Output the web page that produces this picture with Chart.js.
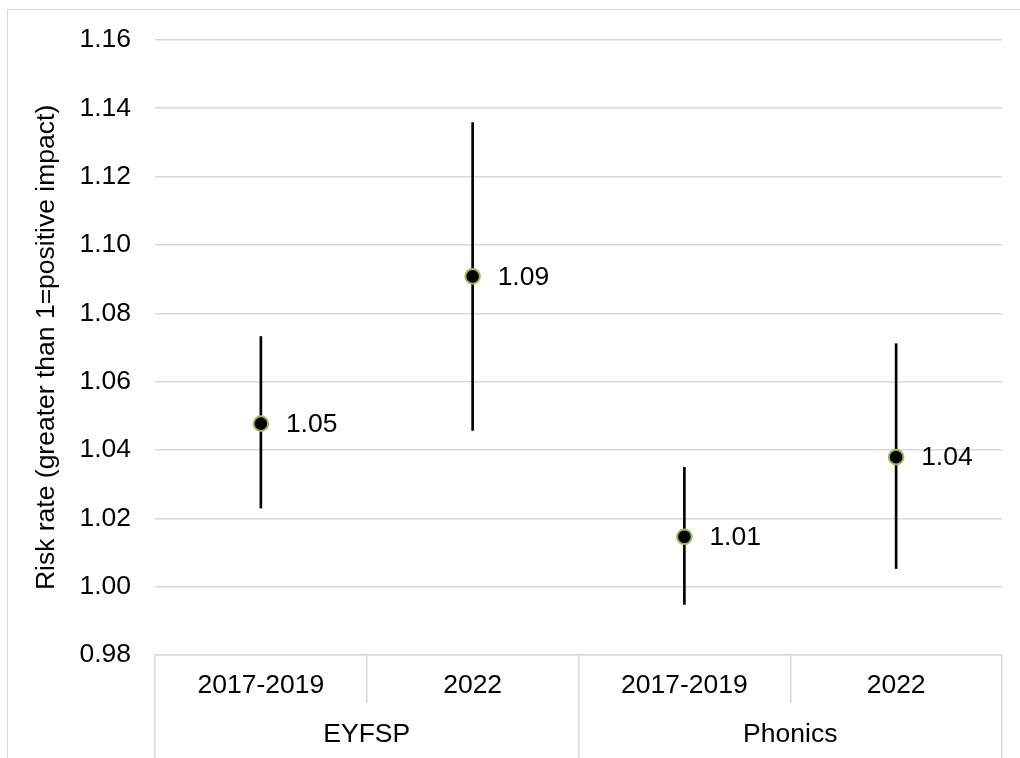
<!DOCTYPE html>
<html>
<head>
<meta charset="utf-8">
<script src="https://cdn.jsdelivr.net/npm/chart.js@4"></script>
<style>
  html, body { margin: 0; padding: 0; background: #fff; }
  #wrap { position: relative; width: 1020px; height: 758px; overflow: hidden; }
  #frame { position: absolute; left: 7px; top: 9px; width: 1100px; height: 900px;
           border-left: 1.5px solid #d9d9d9; border-top: 1.5px solid #d9d9d9; }
  canvas { position: absolute; left: 0; top: 0; }
</style>
</head>
<body>
<div id="wrap">
  <div id="frame"></div>
  <canvas id="c" width="1020" height="758"></canvas>
</div>
<script>
// Categories: period within each assessment
const periods = ['2017-2019', '2022', '2017-2019', '2022'];
const assessments = ['EYFSP', 'Phonics'];

// Estimated risk rates with their confidence intervals
const riskRate = [1.0477, 1.0908, 1.0146, 1.0379];
const ciLow    = [1.0230, 1.0457, 0.9948, 1.0053];
const ciHigh   = [1.0732, 1.1358, 1.0349, 1.0711];

// Y axis range and tick step
const yMin = 0.98, yMax = 1.16, yStep = 0.02;

const FONT = "'Liberation Sans', Arial, sans-serif";
const FS = 26.5;
const GRID = '#d9d9d9';

// Value labels drawn to the right of each point
const valueLabels = {
  id: 'valueLabels',
  afterDatasetsDraw(chart) {
    const meta = chart.getDatasetMeta(1);
    const ctx = chart.ctx;
    ctx.save();
    ctx.font = FS + 'px ' + FONT;
    ctx.fillStyle = '#000';
    ctx.textAlign = 'left';
    ctx.textBaseline = 'middle';
    meta.data.forEach((pt, i) => {
      ctx.fillText(riskRate[i].toFixed(2), pt.x + 25, pt.y + 1);
    });
    ctx.restore();
  }
};

new Chart(document.getElementById('c'), {
  type: 'bar',
  data: {
    labels: periods,
    datasets: [
      {
        type: 'bar',
        data: periods.map((_, i) => [ciLow[i], ciHigh[i]]),
        backgroundColor: '#000',
        borderWidth: 0,
        barThickness: 2,
        order: 2
      },
      {
        type: 'line',
        data: riskRate,
        showLine: false,
        pointRadius: 7.3,
        pointHoverRadius: 7.3,
        pointBorderWidth: 2,
        pointBackgroundColor: '#000',
        pointBorderColor: '#9bbb59',
        order: 1
      }
    ]
  },
  options: {
    responsive: false,
    animation: false,
    events: [],
    layout: { padding: { top: 38, right: 18, left: 0, bottom: 0 } },
    plugins: { legend: { display: false }, tooltip: { enabled: false } },
    scales: {
      x: {
        type: 'category',
        offset: true,
        position: 'bottom',
        border: { display: true, color: GRID, width: 1.5 },
        grid: { offset: true, drawOnChartArea: false, drawTicks: true, tickLength: 48, color: GRID, lineWidth: 1.5 },
        ticks: { autoSkip: false, maxRotation: 0, padding: -33, color: '#000', font: { family: FONT, size: FS } },
        afterFit(scale) { scale.height = 48; }
      },
      x2: {
        type: 'category',
        labels: assessments,
        offset: true,
        position: 'bottom',
        border: { display: false },
        grid: { offset: true, drawOnChartArea: false, drawTicks: true, tickLength: 60, color: GRID, lineWidth: 1.5 },
        ticks: { autoSkip: false, maxRotation: 0, padding: -44, color: '#000', font: { family: FONT, size: FS } },
        afterFit(scale) { scale.height = 55; }
      },
      y: {
        min: yMin,
        max: yMax,
        border: { display: false },
        grid: { color: GRID, lineWidth: 1.5, drawTicks: false },
        ticks: {
          stepSize: yStep,
          padding: 24,
          color: '#000',
          font: { family: FONT, size: FS },
          callback: v => v.toFixed(2)
        },
        title: {
          display: true,
          text: 'Risk rate (greater than 1=positive impact)',
          color: '#000',
          font: { family: FONT, size: FS },
          padding: { top: 31, bottom: 0 }
        },
        afterFit(scale) { scale.width = 155; }
      }
    }
  },
  plugins: [valueLabels]
});
</script>
</body>
</html>
